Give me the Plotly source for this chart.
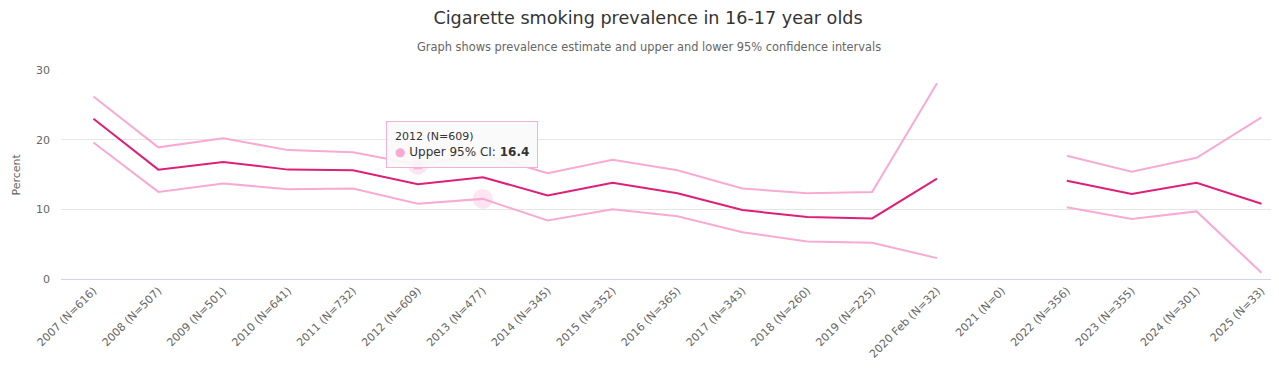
import plotly.graph_objects as go

categories = ["2007 (N=616)", "2008 (N=507)", "2009 (N=501)", "2010 (N=641)", "2011 (N=732)",
              "2012 (N=609)", "2013 (N=477)", "2014 (N=345)", "2015 (N=352)", "2016 (N=365)",
              "2017 (N=343)", "2018 (N=260)", "2019 (N=225)", "2020 Feb (N=32)", "2021 (N=0)",
              "2022 (N=356)", "2023 (N=355)", "2024 (N=301)", "2025 (N=33)"]
estimate = [23.0, 15.7, 16.8, 15.7, 15.6, 13.6, 14.6, 12.0, 13.8, 12.3,
            9.9, 8.9, 8.7, 14.4, None, 14.1, 12.2, 13.8, 10.8]
upper_ci = [26.2, 18.9, 20.2, 18.5, 18.2, 16.4, 17.9, 15.2, 17.1, 15.6,
            13.0, 12.3, 12.5, 28.1, None, 17.7, 15.4, 17.4, 23.2]
lower_ci = [19.6, 12.5, 13.7, 12.9, 13.0, 10.8, 11.5, 8.4, 10.0, 9.0,
            6.7, 5.4, 5.2, 3.0, None, 10.3, 8.6, 9.7, 0.9]

DARK = "#de1f78"
LIGHT = "#f8aad4"
FONT = "DejaVu Sans"

# page body has an 8px margin; figure is sized/offset to compensate
W, H = 1271, 362

x = list(range(len(categories)))
fig = go.Figure()
fig.add_trace(go.Scatter(x=x, y=upper_ci, mode="lines", name="Upper 95% CI",
                         line=dict(color=LIGHT, width=2), connectgaps=False))
fig.add_trace(go.Scatter(x=x, y=lower_ci, mode="lines", name="Lower 95% CI",
                         line=dict(color=LIGHT, width=2), connectgaps=False))
fig.add_trace(go.Scatter(x=x, y=estimate, mode="lines", name="Estimate",
                         line=dict(color=DARK, width=2), connectgaps=False))
# hover halos
fig.add_trace(go.Scatter(x=[x[6]], y=[lower_ci[6]], mode="markers",
                         marker=dict(size=20, color="rgba(248,170,212,0.3)", line=dict(width=0)),
                         hoverinfo="skip"))
fig.add_trace(go.Scatter(x=[x[5]], y=[upper_ci[5]], mode="markers",
                         marker=dict(size=20, color="rgba(248,170,212,0.3)", line=dict(width=0)),
                         hoverinfo="skip"))
fig.add_trace(go.Scatter(x=[x[5]], y=[upper_ci[5]], mode="markers",
                         marker=dict(size=9, color="rgba(240,150,200,0.6)", symbol="square", line=dict(width=0)),
                         hoverinfo="skip"))

# tooltip imitation
fig.add_annotation(x=5.68, y=16.0, xref="x", yref="y", showarrow=False,
                   text="<span style='font-size:11px'>2012 (N=609)</span><br>"
                        "<span style='color:" + LIGHT + "'>●</span> Upper 95% CI: <b>16.4</b>",
                   font=dict(family=FONT, size=12, color="#333"), align="left",
                   bgcolor="rgba(250,250,250,0.92)", bordercolor="#f4b0d6", borderwidth=1,
                   borderpad=8, yanchor="bottom", xanchor="center")

fig.update_layout(
    width=W, height=H,
    margin=dict(l=53, r=0, t=62, b=91),
    paper_bgcolor="white", plot_bgcolor="white",
    showlegend=False,
    font=dict(family=FONT, color="#666"),
    title=dict(text="Cigarette smoking prevalence in 16-17 year olds",
               x=640 / W, xanchor="center", y=1 - 10 / H, yanchor="middle",
               font=dict(family=FONT, size=17.6, color="#333")),
    annotations=list(fig.layout.annotations) + [
        dict(text="Graph shows prevalence estimate and upper and lower 95% confidence intervals",
             xref="paper", yref="paper", x=(649 - 61) / 1218, y=1 + (70 - 47) / 209,
             xanchor="center", yanchor="middle", showarrow=False,
             font=dict(family=FONT, size=11.4, color="#666")),
        dict(text="Percent", xref="paper", yref="paper", x=-(61 - 16) / 1218, y=0.5,
             xanchor="center", yanchor="middle", textangle=-90, showarrow=False,
             font=dict(family=FONT, size=11, color="#666")),
    ],
)
fig.update_xaxes(range=[-0.5, 18.27], tickmode="array", tickvals=x, ticktext=categories,
                 tickangle=-45, tickfont=dict(family=FONT, size=11, color="#666"),
                 showgrid=False, showline=True, linecolor="#ccd6eb", linewidth=1,
                 ticks="", zeroline=False, fixedrange=True, automargin=False)
fig.update_yaxes(range=[0, 30], tickvals=[0, 10, 20, 30], gridcolor="#e6e6e6",
                 tickfont=dict(family=FONT, size=11, color="#666"), zeroline=False,
                 showline=False, ticks="", ticklabelstandoff=10, automargin=False)

fig.write_html("out.html")
